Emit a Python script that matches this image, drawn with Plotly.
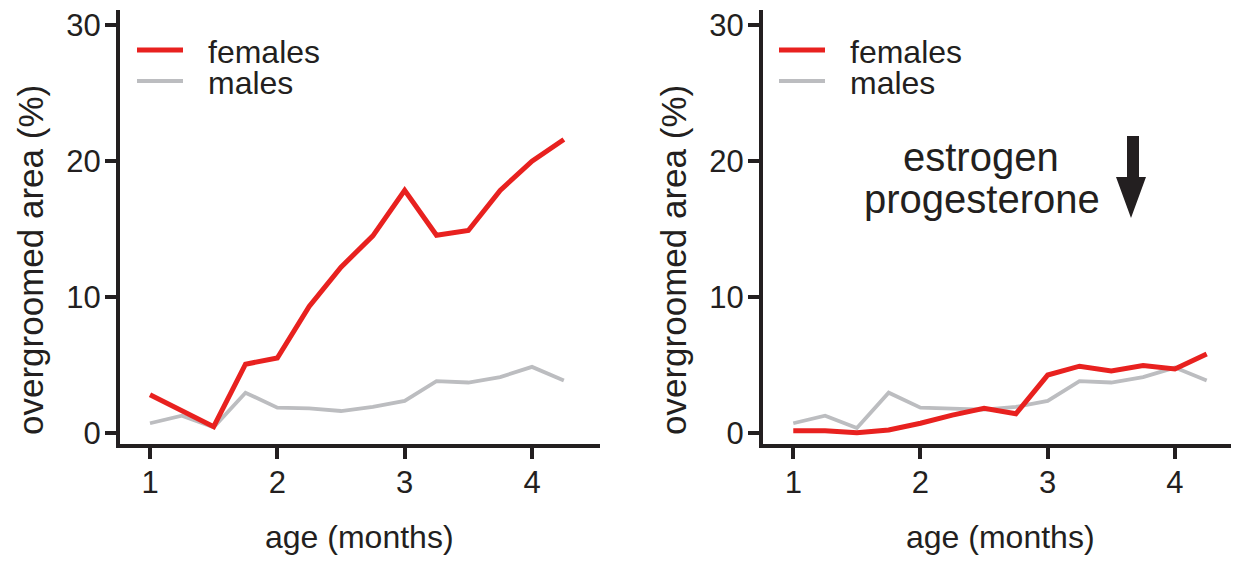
import plotly.graph_objects as go

# ---- data ----
age_months = [1.0, 1.25, 1.5, 1.75, 2.0, 2.25, 2.5, 2.75, 3.0, 3.25, 3.5, 3.75, 4.0, 4.25]
females_intact = [2.8, 1.65, 0.45, 5.05, 5.5, 9.3, 12.2, 14.5, 17.85, 14.55, 14.9, 17.85, 20.0, 21.6]
males_left = [0.7, 1.25, 0.4, 2.95, 1.85, 1.8, 1.6, 1.9, 2.35, 3.8, 3.7, 4.1, 4.85, 3.85]
females_ovx = [0.15, 0.15, 0.0, 0.2, 0.7, 1.3, 1.8, 1.4, 4.25, 4.9, 4.55, 4.95, 4.7, 5.8]
males_right = [0.7, 1.25, 0.35, 2.95, 1.85, 1.8, 1.7, 1.9, 2.35, 3.8, 3.7, 4.1, 4.8, 3.85]

x_ticks = [1, 2, 3, 4]
y_ticks = [0, 10, 20, 30]
series_names = ["females", "males"]
annotation_lines = ["estrogen", "progesterone"]
x_title = "age (months)"
y_title = "overgroomed area (%)"

# ---- style ----
W, H = 1239, 561
OFF = 8  # page body margin of the html page
RED = "#e8211f"
GRAY = "#bcbdc0"
INK = "#231f20"
FONT = "Liberation Sans, Arial, sans-serif"


def px(x):
    return (x - OFF) / W


def py(y):
    return 1 - (y - OFF) / H


fig = go.Figure()

fig.add_trace(go.Scatter(x=age_months, y=males_left, mode="lines", line=dict(color=GRAY, width=3.8),
                         xaxis="x", yaxis="y", showlegend=False, hoverinfo="skip"))
fig.add_trace(go.Scatter(x=age_months, y=females_intact, mode="lines", line=dict(color=RED, width=5),
                         xaxis="x", yaxis="y", showlegend=False, hoverinfo="skip"))
fig.add_trace(go.Scatter(x=age_months, y=males_right, mode="lines", line=dict(color=GRAY, width=3.8),
                         xaxis="x2", yaxis="y2", showlegend=False, hoverinfo="skip"))
fig.add_trace(go.Scatter(x=age_months, y=females_ovx, mode="lines", line=dict(color=RED, width=5),
                         xaxis="x2", yaxis="y2", showlegend=False, hoverinfo="skip"))

axis_common = dict(
    showgrid=False, zeroline=False, showline=True, linecolor=INK, linewidth=4,
    ticks="outside", ticklen=11, tickwidth=4, tickcolor=INK,
    tickfont=dict(family=FONT, size=31, color=INK), automargin=False,
)

y_dom = [py(444), py(10)]
y_rng = [-0.83, 31.14]
fig.update_layout(
    width=W, height=H,
    margin=dict(l=0, r=0, t=0, b=0),
    paper_bgcolor="white", plot_bgcolor="white",
    showlegend=False,
    xaxis=dict(domain=[px(120), px(600)], range=[0.7644, 4.534], tickvals=x_ticks, anchor="y",
               ticklabelstandoff=-3, **axis_common),
    yaxis=dict(domain=y_dom, range=y_rng, tickvals=y_ticks, anchor="x",
               ticklabelstandoff=-2, **axis_common),
    xaxis2=dict(domain=[px(763), px(1239)], range=[0.762, 4.504], tickvals=x_ticks, anchor="y2",
                ticklabelstandoff=-3, **axis_common),
    yaxis2=dict(domain=y_dom, range=y_rng, tickvals=y_ticks, anchor="x2",
                ticklabelstandoff=-2, **axis_common),
)

annotations = []
shapes = []

# axis titles
for cx in (359.5, 1000):
    annotations.append(dict(x=px(cx), y=py(537), xref="paper", yref="paper", text=x_title, showarrow=False,
                            xanchor="center", yanchor="middle", font=dict(family=FONT, size=32, color=INK)))
for cx in (30, 673):
    annotations.append(dict(x=px(cx), y=py(260), xref="paper", yref="paper", text=y_title, showarrow=False,
                            textangle=-90, xanchor="center", yanchor="middle",
                            font=dict(family=FONT, size=35, color=INK)))

# legends (manual)
for ax0 in (119, 761):
    for name, color, lw, ly in ((series_names[0], RED, 5, 50), (series_names[1], GRAY, 4.2, 81)):
        shapes.append(dict(type="line", xref="paper", yref="paper", x0=px(ax0 + 18), x1=px(ax0 + 64),
                           y0=py(ly), y1=py(ly), line=dict(color=color, width=lw)))
        annotations.append(dict(x=px(ax0 + 87), y=py(ly + 2), xref="paper", yref="paper", text=name,
                                showarrow=False, xanchor="left", yanchor="middle",
                                font=dict(family=FONT, size=32, color=INK)))

# estrogen / progesterone label
annotations.append(dict(x=px(981), y=py(157), xref="paper", yref="paper", text=annotation_lines[0],
                        showarrow=False, xanchor="center", yanchor="middle",
                        font=dict(family=FONT, size=40, color=INK)))
annotations.append(dict(x=px(982), y=py(199), xref="paper", yref="paper", text=annotation_lines[1],
                        showarrow=False, xanchor="center", yanchor="middle",
                        font=dict(family=FONT, size=40, color=INK)))

# down arrow
arrow_pts = [(1127, 136), (1139, 136), (1139, 177), (1146, 177), (1131, 218), (1116, 177), (1127, 177)]
path = "M " + " L ".join(f"{px(x):.5f},{py(y):.5f}" for x, y in arrow_pts) + " Z"
shapes.append(dict(type="path", xref="paper", yref="paper", path=path,
                   fillcolor=INK, line=dict(color=INK, width=0)))

fig.update_layout(annotations=annotations, shapes=shapes)

fig.write_html("out.html")
